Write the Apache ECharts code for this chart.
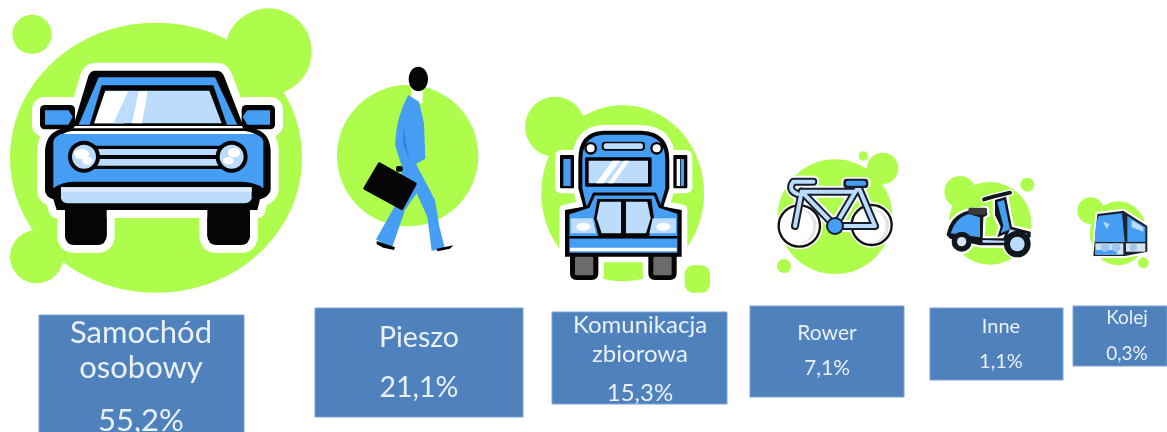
<!DOCTYPE html>
<html><head><meta charset="utf-8">
<style>html,body{margin:0;padding:0;background:#fff}#c{width:1167px;height:432px;filter:blur(0.55px)}</style>
<script src="https://cdn.jsdelivr.net/npm/echarts@6/dist/echarts.min.js"></script>
</head><body><div id="c"></div>
<script>
// ---- data ----
const categories = ['Samochód osobowy', 'Pieszo', 'Komunikacja zbiorowa', 'Rower', 'Inne', 'Kolej'];
const shares = [55.2, 21.1, 15.3, 7.1, 1.1, 0.3];
// ---- label wrapping ----
const nameLines = [['Samochód', 'osobowy'], ['Pieszo'], ['Komunikacja', 'zbiorowa'], ['Rower'], ['Inne'], ['Kolej']];
// ---- box layout, in axis units ----
const boxLeft = [39, 315, 552, 750, 930, 1073];
const boxRight = [244, 523, 727, 904, 1063, 1167];
const boxTop = [315, 308, 312, 306, 308, 306];
const boxBottom = [436, 417, 404, 397, 380, 366];
const textCenter = [141, 419, 640, 827, 1001, 1127];
const fontSizes = [31, 28.5, 24, 21, 20, 19];
const nameY = [[333, 368], [338], [325, 354], [333], [327], [318]];
const valueY = [421, 388, 393, 368, 362, 354];

const GREEN = '#aefc4b', BLUE = '#459df4', LIGHT = '#bcdcfd', BLACK = '#050505', WHITE = '#ffffff';
const BOX = '#4f81bd', TEXT = '#e9f0f8';

const P = (d, fill, stroke, lw) => ({type:'path', shape:{pathData:d}, style:{fill:fill||'none', stroke:stroke||'none', lineWidth:lw||0, lineJoin:'round', lineCap:'round'}});
const C = (x, y, r, fill, stroke, lw) => ({type:'circle', shape:{cx:x, cy:y, r:r}, style:{fill:fill||'none', stroke:stroke||'none', lineWidth:lw||0}});
const E = (x, y, rx, ry, fill) => ({type:'ellipse', shape:{cx:x, cy:y, rx:rx, ry:ry}, style:{fill:fill}});
const R = (x0, y0, x1, y1, r, fill, stroke, lw) => ({type:'rect', shape:{x:x0, y:y0, width:x1-x0, height:y1-y0, r:r}, style:{fill:fill||'none', stroke:stroke||'none', lineWidth:lw||0, lineJoin:'round'}});
const G = (ox, oy, children) => ({type:'group', x:ox, y:oy, scaleX:1/3, scaleY:1/3, children:children});

// Car: crop-space coordinates (3x) with origin at 0,0
const carCabin = 'M285 212L650 212Q665 212 672 228L730 378L220 378L265 228Q272 212 285 212Z';
const carBody = 'M135 450Q140 392 195 385L755 385Q808 392 812 450L812 570Q808 590 780 598L772 630L750 630L750 705Q750 735 720 735L652 735Q622 735 622 705L622 630L320 630L320 705Q320 735 290 735L225 735Q195 735 195 705L195 630L170 630L160 598Q135 590 135 570Z';
const car = G(0, 0, [
  E(468, 473, 438, 405, GREEN), C(805, 155, 130, GREEN), C(110, 770, 80, GREEN),
  C(96, 103, 59, GREEN),
  P(carCabin, WHITE, WHITE, 48), P(carBody, WHITE, WHITE, 48),
  R(120, 315, 225, 388, 14, WHITE, WHITE, 48), R(725, 315, 825, 388, 14, WHITE, WHITE, 48),
  P(carCabin, BLACK),
  P('M296 232L645 232L712 374L236 374Z', BLUE),
  P('M305 256L640 256L682 378L268 378Z', BLACK),
  P('M316 272L628 272L665 370L282 370Z', LIGHT),
  P('M316 274L398 274L372 370L284 370Z', WHITE),
  P('M385 274L398 274L372 370L340 370Z', LIGHT),
  P('M416 274L443 274L426 370L396 370Z', WHITE),
  R(120, 315, 225, 388, 14, BLACK), R(725, 315, 825, 388, 14, BLACK),
  P('M135 331L205 331L218 350L205 374L135 374Z', BLUE),
  P('M810 331L742 331L728 350L742 374L810 374Z', BLUE),
  P(carBody, BLACK),
  P('M160 425Q165 402 210 397L740 397Q785 402 790 425L790 565Q765 545 720 545L220 545Q185 545 160 565Z', BLUE),
  P('M190 402Q200 395 215 393L735 393Q750 395 765 402Z', WHITE),
  R(255, 437, 695, 507, 0, BLACK),
  R(280, 447, 670, 465, 0, LIGHT), R(280, 477, 670, 497, 0, LIGHT),
  C(252, 470, 48, BLACK), C(695, 470, 48, BLACK),
  C(252, 470, 36, LIGHT), C(695, 470, 36, LIGHT),
  E(245, 462, 22, 15, WHITE), E(262, 482, 16, 12, WHITE),
  E(702, 458, 18, 14, WHITE), E(685, 482, 16, 11, WHITE),
  P('M183 562L755 562L755 595Q752 610 730 610L205 610Q186 610 183 595Z', LIGHT),
  R(183, 562, 755, 575, 0, '#dcecfd'),
  R(195, 628, 320, 735, 30, BLACK), R(622, 628, 750, 735, 30, BLACK)
]);

// Pedestrian and bus: crop origin 320,60
const busTop = 'M775 300Q775 215 850 212L965 212Q1048 215 1048 300L1048 385L1030 440L1085 450L1085 590L1070 590L1070 640Q1070 660 1050 660L1005 660Q985 660 985 640L985 590L835 590L835 640Q835 660 815 660L770 660Q750 660 750 640L750 590L735 590L735 450L790 440L775 385Z';
const walkerAndBus = G(320, 60, [
  C(263, 287, 212, GREEN),
  R(273, 80, 308, 130, 0, WHITE),
  E(295, 57, 29, 37, BLACK),
  P('M265 105L297 125L312 190L316 296L288 312L345 420L358 500L375 566L335 572L322 470L290 400L255 450L215 566L168 538L232 425L246 322L225 255Q228 170 265 105Z', BLUE),
  P('M250 190L262 270L268 300L250 255Z', '#2e86e2'),
  P('M170 543L225 562L222 570L190 563L170 553Z', BLACK),
  P('M350 566L400 556L390 566L352 574Z', BLACK),
  P('M178 312L285 372L245 445L135 385Z', BLACK, BLACK, 10),
  R(228, 318, 248, 335, 6, BLACK),
  // bus
  C(705, 200, 90, GREEN),
  E(908, 400, 244, 264, GREEN),
  R(850, 600, 970, 657, 10, GREEN),
  R(1094, 616, 1170, 698, 26, GREEN),
  P(busTop, WHITE, WHITE, 34),
  R(720, 285, 762, 385, 3, WHITE, WHITE, 30), R(1060, 285, 1102, 385, 3, WHITE, WHITE, 30),
  R(720, 285, 762, 385, 3, BLACK), R(1060, 285, 1102, 385, 3, BLACK),
  R(730, 297, 752, 378, 0, BLUE), R(1070, 297, 1080, 378, 0, WHITE),
  R(1082, 297, 1092, 378, 0, BLUE),
  P(busTop, BLACK),
  P('M787 300Q787 228 850 224L965 224Q1036 228 1036 300L1036 385L1020 440L1072 458L1072 578L748 578L748 458L800 440L787 385Z', BLUE),
  R(845, 245, 975, 272, 10, BLACK), R(851, 250, 969, 267, 7, LIGHT),
  C(812, 265, 19, BLACK), C(812, 265, 12, WHITE), C(1010, 265, 19, BLACK), C(1010, 265, 12, WHITE),
  R(795, 292, 995, 380, 4, BLACK),
  R(806, 302, 984, 370, 0, LIGHT),
  P('M878 302L900 302L850 370L828 370Z', WHITE), P('M912 302L928 302L880 370L864 370Z', WHITE),
  P('M750 458L805 440L822 402L1005 402L1020 440L1075 458', 'none', BLACK, 9),
  P('M832 417L994 417L1002 475L987 528L835 528L822 475Z', BLACK),
  P('M840 425L903 425L903 520L845 520L830 475Z', LIGHT),
  P('M918 425L982 425L992 475L978 520L918 520Z', LIGHT),
  P('M752 475L818 475L828 520L752 520Z', LIGHT), P('M998 475L1068 475L1068 520L988 520Z', LIGHT),
  E(790, 500, 21, 12, WHITE), E(1030, 500, 21, 12, WHITE),
  R(748, 528, 1072, 536, 0, BLACK),
  R(750, 536, 1070, 563, 0, BLUE), R(750, 563, 1070, 574, 0, WHITE),
  R(765, 590, 820, 646, 4, '#6b6b6b'), R(1000, 590, 1055, 646, 4, '#6b6b6b')
]);

// Bike, scooter, train: crop origin 760,140
const bikeFrame = 'M125 155L105 258M125 155L285 155M125 155L225 258M295 140L225 258M295 140L345 258M225 258L345 258M160 125L100 125Q82 150 112 162';
const scooterRear = 'M560 285Q570 225 625 212L680 205L682 225L670 232L668 295L730 295L745 258L812 275L812 292L740 316L660 316L570 296Z';
const scooterShield = 'M705 180L738 170L758 272L712 292L722 260L705 225Z';
const trainShape = 'M1012 222L1090 212L1162 258L1162 335L1095 348L1000 348Z';
const smallIcons = G(760, 140, [
  C(225, 230, 172, GREEN), C(368, 85, 47, GREEN), C(310, 48, 14, GREEN), C(72, 378, 21, GREEN),
  C(118, 258, 62, WHITE, WHITE, 16), C(335, 255, 60, WHITE, WHITE, 16),
  P(bikeFrame, 'none', WHITE, 36),
  R(250, 118, 325, 142, 10, WHITE, WHITE, 14),
  C(335, 258, 52, '#e4e4e4'), C(325, 258, 52, WHITE),
  C(118, 258, 52, '#e4e4e4'), C(108, 258, 52, WHITE),
  C(118, 258, 62, 'none', '#111', 7), C(335, 255, 60, 'none', '#111', 7),
  P(bikeFrame, 'none', '#16202c', 24),
  P(bikeFrame, 'none', LIGHT, 12),
  R(250, 116, 325, 144, 10, '#16202c'), R(258, 122, 318, 137, 6, BLUE),
  C(225, 258, 27, '#16202c'), C(225, 258, 21, BLUE),
  // scooter
  C(690, 250, 124, GREEN), C(600, 155, 47, GREEN), C(802, 134, 21, GREEN),
  P(scooterRear, WHITE, WHITE, 14), P(scooterShield, WHITE, WHITE, 14),
  C(605, 305, 32, WHITE, WHITE, 10), C(772, 312, 40, WHITE, WHITE, 10),
  P('M672 178L700 170L750 158', 'none', WHITE, 20),
  P(scooterRear, '#10161c'), P(scooterShield, '#10161c'),
  P('M672 178L700 170L750 158', 'none', '#10161c', 12),
  P('M712 186L732 180L750 268L722 280L730 258Z', BLUE),
  P('M572 280Q585 235 625 222L660 232L660 292Z', BLUE),
  P('M668 300L735 302L750 268L804 282L738 308L668 308Z', LIGHT),
  R(625, 203, 680, 224, 6, '#3a3a3a'),
  C(605, 305, 30, '#10161c'), C(605, 305, 14, '#d6e6f7'),
  C(772, 312, 40, '#10161c'), C(772, 312, 22, LIGHT),
  // train
  E(1075, 280, 85, 96, GREEN), C(992, 212, 40, GREEN), C(1150, 368, 16, GREEN),
  P(trainShape, WHITE, WHITE, 12),
  P(trainShape, '#1a2530'),
  P('M1016 228L1086 220L1094 306L1004 306L1008 250Z', BLUE),
  P('M1102 228L1156 262L1156 305L1102 306Z', BLUE),
  P('M1115 240L1150 262L1150 275L1115 262Z', LIGHT),
  R(1006, 310, 1090, 344, 0, '#cfe0f2'), R(1098, 310, 1156, 335, 0, '#d6e3ef'),
  R(1006, 330, 1070, 344, 0, BLUE),
  C(1035, 322, 13, '#9cc6ee'), C(1068, 322, 13, '#9cc6ee'), C(1120, 322, 11, '#9cc6ee'),
  P('M1030 245L1048 252L1040 268Z', LIGHT)
]);

const rows = categories.map((c, i) => [boxLeft[i], boxRight[i], boxTop[i], boxBottom[i], shares[i], i]);

function renderBox(params, api) {
  const i = api.value(5);
  const tl = api.coord([api.value(0), api.value(2)]);
  const br = api.coord([api.value(1), api.value(3)]);
  const cx = api.coord([textCenter[i], 0])[0];
  const t = (s, y) => ({type:'text', style:{text:s, x:cx, y:api.coord([0, y])[1], align:'center', verticalAlign:'middle', fill:TEXT, fontFamily:'Lato', fontSize:fontSizes[i]}});
  const valueText = api.value(4).toFixed(1).replace('.', ',') + '%';
  return {type:'group', children:[
    {type:'rect', shape:{x:tl[0], y:tl[1], width:br[0]-tl[0], height:br[1]-tl[1]}, style:{fill:BOX, stroke:'#7ba3d3', lineWidth:1}},
    ...nameLines[i].map((s, k) => t(s, nameY[i][k])),
    t(valueText, valueY[i])
  ]};
}

const chart = echarts.init(document.getElementById('c'), null, {renderer:'canvas'});
chart.setOption({
  animation:false,
  backgroundColor:'#fff',
  grid:{left:0, right:0, top:0, bottom:0},
  xAxis:{type:'value', min:0, max:1167, show:false},
  yAxis:{type:'value', min:0, max:432, inverse:true, show:false},
  tooltip:{show:false},
  series:[
    {type:'custom', name:'Ikony', data:[[0, 0]], silent:true, clip:false, encode:{x:0, y:1},
      renderItem:() => ({type:'group', children:[car, walkerAndBus, smallIcons]})},
    {type:'custom', name:'Udział', data:rows, renderItem:renderBox, silent:true, clip:false,
      encode:{x:[0,1], y:[2,3]}}
  ]
});
</script></body></html>
